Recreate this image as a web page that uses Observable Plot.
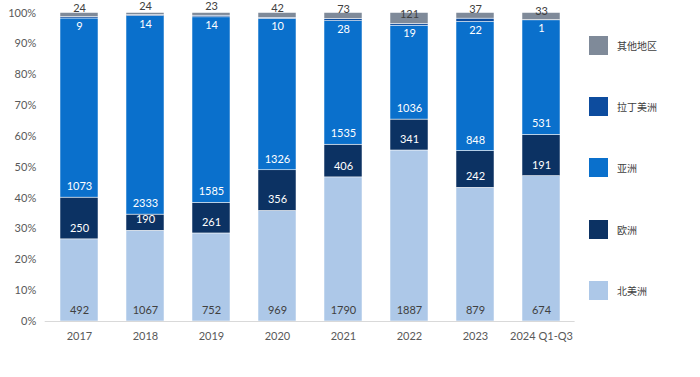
<!DOCTYPE html>
<html><head><meta charset="utf-8">
<script src="https://cdn.jsdelivr.net/npm/d3@7"></script>
<script src="https://cdn.jsdelivr.net/npm/@observablehq/plot@0.6"></script>
<style>
body{margin:0;background:#fff;}
#wrap{position:relative;width:700px;height:377px;}
#legend{position:absolute;left:589px;top:0;font-family:"Noto Sans CJK SC",sans-serif;font-size:10px;color:#404040;}
.li{position:absolute;left:0;display:flex;align-items:center;white-space:nowrap;}
.sw{width:19px;height:19px;margin-right:9px;}
</style></head>
<body><div id="wrap"><div id="chart"></div><div id="legend"></div></div>
<script>
const years = ["2017","2018","2019","2020","2021","2022","2023","2024 Q1-Q3"];
const regions = ["北美洲","欧洲","亚洲","拉丁美洲","其他地区"];
const colors = ["#adc8e8","#0c3263","#0a70cc","#0d4c9e","#7f8a99"];
const northAmerica = [492,1067,752,969,1790,1887,879,674];
const europe = [250,190,261,356,406,341,242,191];
const asia = [1073,2333,1585,1326,1535,1036,848,531];
const latinAmerica = [9,14,14,10,28,19,22,1];
const other = [24,24,23,42,73,121,37,33];
const series = [northAmerica, europe, asia, latinAmerica, other];
const yTicks = [0,0.1,0.2,0.3,0.4,0.5,0.6,0.7,0.8,0.9,1];

const rows = [];
years.forEach((yr,i)=>{
  const total = series.reduce((s,a)=>s+a[i],0);
  let cum = 0;
  regions.forEach((r,k)=>{
    const v = series[k][i];
    rows.push({year:yr, region:r, k, value:v, base:cum/total, top:(cum+v)/total});
    cum += v;
  });
});
const labelDy = {0:-11,1:-11,2:-11,3:8,4:-9};
const labelFill = {0:"#404040",1:"#fff",2:"#fff",3:"#fff",4:"#404040"};
const font = "Lato, 'Open Sans', sans-serif";

const chart = Plot.plot({
  width:700, height:377,
  marginLeft:44.7, marginRight:125.4, marginTop:12.5, marginBottom:56,
  style:{fontFamily:font, fontSize:"11px", color:"#595959", background:"#fff"},
  x:{domain:years, paddingInner:0.43, paddingOuter:0.215, label:null, tickSize:0, tickPadding:11},
  y:{domain:[0,1], ticks:yTicks, tickFormat:d=>Math.round(d*100)+"%", label:null, tickSize:0, tickPadding:9},
  color:{domain:regions, range:colors},
  marks:[
    Plot.rectY(rows,{x:"year", y1:"base", y2:"top", fill:"region", stroke:"#fff", strokeWidth:0.5}),
    Plot.ruleY([0],{stroke:"#d9d9d9", strokeWidth:1}),
    ...[0,1,2,3,4].map(k=>Plot.text(rows.filter(d=>d.k===k),{x:"year", y:"base", text:d=>String(d.value), dy:labelDy[k], fill:labelFill[k], fontSize:11, fontFamily:font}))
  ]
});
document.getElementById("chart").appendChild(chart);

const legendTops = [36,97,158,220,281];
const leg = document.getElementById("legend");
[4,3,2,1,0].forEach((k,j)=>{
  const d = document.createElement("div");
  d.className="li"; d.style.top = legendTops[j]+"px";
  d.innerHTML = `<div class="sw" style="background:${colors[k]}"></div><span>${regions[k]}</span>`;
  leg.appendChild(d);
});
</script></body></html>
